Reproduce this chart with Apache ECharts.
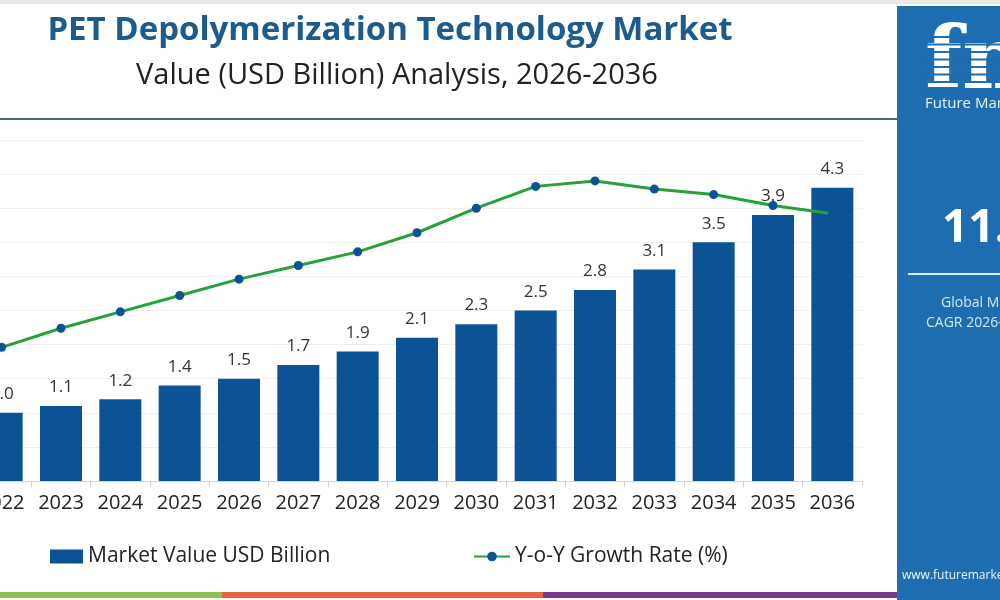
<!DOCTYPE html>
<html>
<head>
<meta charset="utf-8">
<script src="https://cdn.jsdelivr.net/npm/echarts@6/dist/echarts.min.js"></script>
<style>
  html, body { margin: 0; padding: 0; background: #fff; }
  #pet_chart { width: 1000px; height: 600px; }
</style>
</head>
<body>
<div id="pet_chart"></div>
<script>
var years = ['2022', '2023', '2024', '2025', '2026', '2027', '2028', '2029',
    '2030', '2031', '2032', '2033', '2034', '2035', '2036'];
var marketValue = [1.0, 1.1, 1.2, 1.4, 1.5, 1.7, 1.9, 2.1, 2.3, 2.5, 2.8, 3.1, 3.5, 3.9, 4.3];
var growthRate = [4.9, 5.6, 6.2, 6.8, 7.4, 7.9, 8.4, 9.1, 10.0, 10.8, 11.0, 10.7, 10.5, 10.1, 9.8];
var valueTicks = { min: 0, max: 5, interval: 0.5 };
var growthTicks = { min: 0, max: 12.5 };

var fontName = '"Open Sans", sans-serif';
var barBlue = '#0b5394';
var panelBlue = '#1d6db0';

// white stripes over the logo letters
var logoStripes = [];
for (var i = 0; i < 9; i++) {
    logoStripes.push({
        type: 'rect',
        shape: { x: 920, y: 36 + i * 7.5, width: 80, height: 2 },
        style: { fill: panelBlue },
        z: 12
    });
}

var pet_chart = echarts.init(document.getElementById('pet_chart'));
var pet_option = {
    backgroundColor: '#fff',
    textStyle: { fontFamily: fontName },
    legend: [
        {
            data: ['Market Value USD Billion'],
            icon: 'rect',
            left: 50,
            top: 546,
            padding: 0,
            itemWidth: 33,
            itemHeight: 14,
            textStyle: { fontSize: 21, color: '#222', fontFamily: fontName }
        },
        {
            data: ['Y-o-Y Growth Rate (%)'],
            left: 473,
            top: 546,
            padding: 0,
            itemWidth: 36,
            itemHeight: 12,
            textStyle: { fontSize: 21, color: '#222', fontFamily: fontName }
        }
    ],
    grid: {
        left: -28,
        right: 138,
        top: 140,
        bottom: 119,
        containLabel: false,
        outerBoundsMode: 'none'
    },
    xAxis: {
        type: 'category',
        data: years,
        axisLine: { lineStyle: { color: '#d6d6d6' } },
        axisTick: { show: true, length: 6, lineStyle: { color: '#cfcfcf' } },
        axisLabel: {
            interval: 0,
            margin: 12,
            fontSize: 20,
            color: '#222',
            fontFamily: fontName
        }
    },
    yAxis: [
        {
            type: 'value',
            min: valueTicks.min,
            max: valueTicks.max,
            interval: valueTicks.interval,
            axisLabel: { show: false },
            axisLine: { show: false },
            axisTick: { show: false },
            splitLine: { lineStyle: { color: '#efefef', width: 1 } }
        },
        {
            type: 'value',
            min: growthTicks.min,
            max: growthTicks.max,
            show: false,
            splitLine: { show: false }
        }
    ],
    series: [
        {
            name: 'Market Value USD Billion',
            type: 'bar',
            data: marketValue,
            barWidth: 42,
            itemStyle: { color: barBlue },
            label: {
                show: true,
                position: 'top',
                distance: 10,
                fontSize: 17,
                color: '#333',
                fontFamily: fontName,
                formatter: function (p) { return p.value.toFixed(1); }
            }
        },
        {
            name: 'Y-o-Y Growth Rate (%)',
            type: 'line',
            yAxisIndex: 1,
            data: growthRate,
            symbol: 'circle',
            symbolSize: 9,
            itemStyle: { color: barBlue },
            lineStyle: { color: '#27a23a', width: 3 },
            z: 5
        }
    ],
    graphic: [
        { type: 'rect', shape: { x: 0, y: 0, width: 1000, height: 4 }, style: { fill: '#e8e8e8' } },
        {
            type: 'text', x: 390, y: 31,
            style: {
                text: 'PET Depolymerization Technology Market',
                fill: '#1b5b8e', font: 'bold 33px "Open Sans", sans-serif',
                textAlign: 'center', textVerticalAlign: 'middle'
            }
        },
        {
            type: 'text', x: 397, y: 76,
            style: {
                text: 'Value (USD Billion) Analysis, 2026-2036',
                fill: '#222', font: '29px "Open Sans", sans-serif',
                textAlign: 'center', textVerticalAlign: 'middle'
            }
        },
        { type: 'line', shape: { x1: 0, y1: 119, x2: 897, y2: 119 }, style: { stroke: '#3f6b8f', lineWidth: 2 } },
        // right info panel
        { type: 'rect', shape: { x: 897, y: 6, width: 110, height: 594 }, style: { fill: panelBlue }, z: 10 },
        {
            type: 'text', x: 925, y: 66, z: 11,
            style: {
                text: 'fmi', fill: '#fff', font: 'bold 86px "DejaVu Serif", serif',
                textVerticalAlign: 'middle'
            }
        }
    ].concat(logoStripes).concat([
        {
            type: 'text', x: 925, y: 104, z: 12,
            style: { text: 'Future Market Insights', fill: '#e6f0f8', font: '15px "Open Sans", sans-serif', textVerticalAlign: 'middle' }
        },
        {
            type: 'text', x: 942, y: 229, z: 12,
            style: { text: '11.1%', fill: '#fff', font: 'bold 46px "Open Sans", sans-serif', textVerticalAlign: 'middle' }
        },
        { type: 'line', z: 12, shape: { x1: 908, y1: 274, x2: 1000, y2: 274 }, style: { stroke: '#d8e8f5', lineWidth: 2 } },
        {
            type: 'text', x: 941, y: 303, z: 12,
            style: { text: 'Global Market', fill: '#d6e6f4', font: '14px "Open Sans", sans-serif', textVerticalAlign: 'middle' }
        },
        {
            type: 'text', x: 926, y: 323, z: 12,
            style: { text: 'CAGR 2026-2036', fill: '#d6e6f4', font: '14px "Open Sans", sans-serif', textVerticalAlign: 'middle' }
        },
        {
            type: 'text', x: 902, y: 576, z: 12,
            style: { text: 'www.futuremarketinsights.com', fill: '#eef4fa', font: '12px "Open Sans", sans-serif', textVerticalAlign: 'middle' }
        },
        // bottom colour strip
        { type: 'rect', shape: { x: 0, y: 592, width: 222, height: 6 }, style: { fill: '#8cc152' } },
        { type: 'rect', shape: { x: 222, y: 592, width: 321, height: 6 }, style: { fill: '#e2643f' } },
        { type: 'rect', shape: { x: 543, y: 592, width: 354, height: 6 }, style: { fill: '#7b3a8c' } }
    ])
};
pet_chart.setOption(pet_option);

window.addEventListener('resize', function () {
    pet_chart.resize();
});
</script>
</body>
</html>
